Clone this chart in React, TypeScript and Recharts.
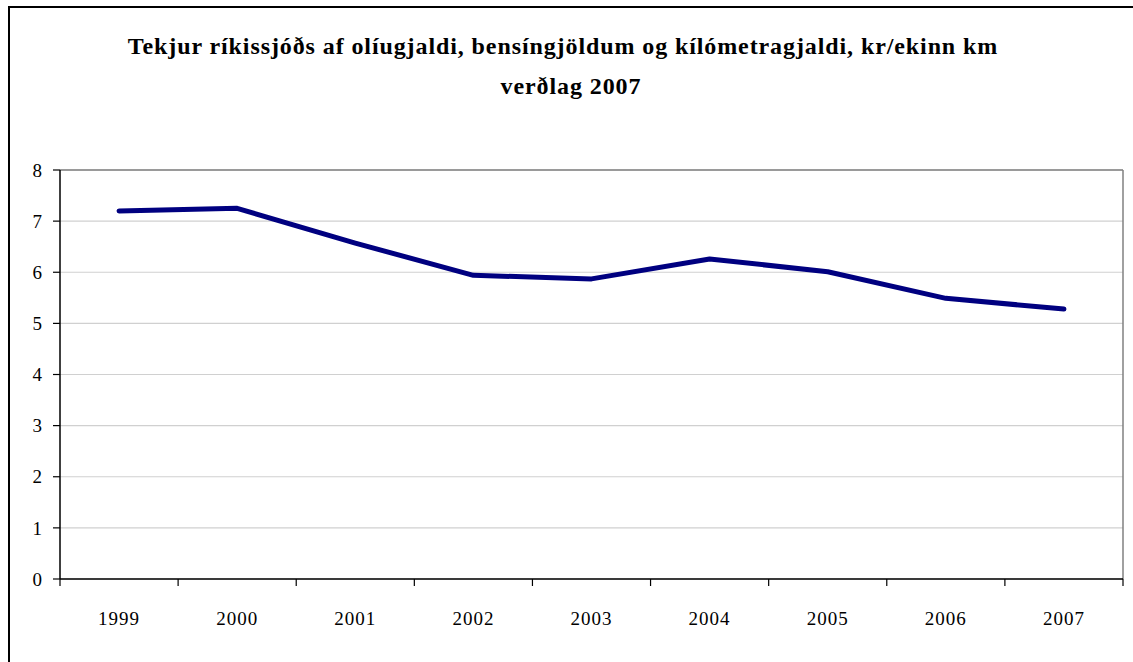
import React from 'react';
import { LineChart, Line, XAxis, YAxis, CartesianGrid, ReferenceLine } from 'recharts';

const years = ['1999', '2000', '2001', '2002', '2003', '2004', '2005', '2006', '2007'];
const values = [7.2, 7.25, 6.57, 5.94, 5.87, 6.26, 6.01, 5.49, 5.28];
const yTicks = [0, 1, 2, 3, 4, 5, 6, 7, 8];
const titleLine1 = 'Tekjur ríkissjóðs af olíugjaldi, bensíngjöldum og kílómetragjaldi, kr/ekinn km';
const titleLine2 = 'verðlag 2007';

// category slots: position i+0.5 is the centre of category i; integers are slot boundaries
const data = years.map((y, i) => ({ year: y, pos: i + 0.5, value: values[i] }));
const xTicks: number[] = [];
for (let i = 0; i <= years.length; i++) {
  xTicks.push(i);
  if (i < years.length) xTicks.push(i + 0.5);
}

const serif = '"Liberation Serif", "DejaVu Serif", serif';

const XTick = (props: any) => {
  const { x, y, payload } = props;
  const v = payload.value as number;
  if (Number.isInteger(v)) {
    return <line x1={x} x2={x} y1={y} y2={y + 7} stroke="#000" strokeWidth={1.2} />;
  }
  const label = years[Math.floor(v)];
  return (
    <text
      x={x}
      y={y + 46}
      textAnchor="middle"
      fill="#000"
      fontFamily={serif}
      fontSize={19}
      letterSpacing={1}
    >
      {label}
    </text>
  );
};

export default function App() {
  return (
    <div
      style={{
        position: 'absolute',
        left: 8,
        top: 6,
        width: 1125,
        height: 656,
        overflow: 'hidden',
        background: '#fff',
      }}
    >
      <div style={{ position: 'absolute', left: 0, top: 0, width: 1125, height: 2, background: '#000' }} />
      <div style={{ position: 'absolute', left: 0, top: 0, width: 2, height: 656, background: '#000' }} />
      <div
        style={{
          position: 'absolute',
          left: 2,
          width: 1106,
          top: 20,
          textAlign: 'center',
          fontFamily: serif,
          fontWeight: 'bold',
          fontSize: 24,
          letterSpacing: 0.9,
          lineHeight: '40px',
          color: '#000',
          whiteSpace: 'nowrap',
        }}
      >
        <div>{titleLine1}</div>
        <div style={{ paddingLeft: 16 }}>{titleLine2}</div>
      </div>
      <div style={{ position: 'absolute', left: 2, top: 2 }}>
        <LineChart
          width={1123}
          height={654}
          data={data}
          margin={{ top: 162, right: 10, bottom: 43, left: 0 }}
        >
          <CartesianGrid horizontal vertical={false} stroke="#d0d0d0" strokeWidth={1.2} />
          <XAxis
            dataKey="pos"
            type="number"
            domain={[0, years.length]}
            ticks={xTicks}
            tick={<XTick />}
            height={40}
            tickSize={0}
            tickMargin={0}
            tickLine={false}
            axisLine={{ stroke: '#000', strokeWidth: 1.5 }}
            interval={0}
            allowDataOverflow
          />
          <YAxis
            domain={[0, 8]}
            ticks={yTicks}
            width={50}
            interval={0}
            tickSize={7}
            tickMargin={11}
            axisLine={{ stroke: '#000', strokeWidth: 1.5 }}
            tickLine={{ stroke: '#000', strokeWidth: 1.2 }}
            tick={{ fill: '#000', fontFamily: serif, fontSize: 19 }}
          />
          <ReferenceLine y={8} stroke="#808080" strokeWidth={1.5} />
          <ReferenceLine x={years.length} stroke="#808080" strokeWidth={1.5} />
          <Line
            type="linear"
            dataKey="value"
            stroke="#000080"
            strokeWidth={5}
            dot={false}
            activeDot={false}
            strokeLinejoin="round"
            strokeLinecap="round"
            isAnimationActive={false}
          />
        </LineChart>
      </div>
    </div>
  );
}
